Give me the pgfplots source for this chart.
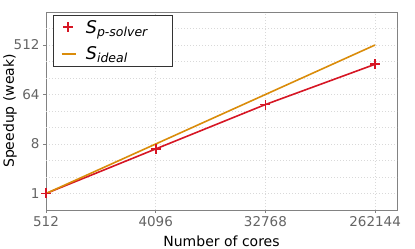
\documentclass[border=0pt]{standalone}
\usepackage{pgfplots}
\pgfplotsset{compat=1.18}
\usepackage{fontspec}
\setmainfont{DejaVu Sans}
\definecolor{cred}{RGB}{214,22,36}
\definecolor{corange}{RGB}{218,140,10}
\definecolor{tickgrey}{RGB}{100,100,100}
\definecolor{spine}{RGB}{130,130,130}
\newcommand{\sub}[1]{\raisebox{-0.3ex}{\fontsize{12.5}{14}\selectfont\textit{#1}}}
\begin{document}
\begin{tikzpicture}
\begin{axis}[
  scale only axis, width=351pt, height=198pt,
  at={(0,0)}, anchor=south west,
  xmode=log, ymode=log, log basis x=2, log basis y=2,
  xmin=512, xmax=397000, ymin=0.5, ymax=2048,
  xtick={512,4096,32768,262144},
  xticklabels={512,4096,32768,262144},
  ytick={1,8,64,512},
  yticklabels={1,8,64,512},
  extra y ticks={2,4,16,32,128,256,1024},
  extra y tick labels={},
  extra y tick style={major tick length=0pt},
  grid=major,
  major grid style={dash pattern=on 0.8pt off 2.2pt, gray!30, line width=0.7pt},
  axis line style={spine, line width=0.8pt},
  tick style={spine, line width=0.8pt},
  tick align=outside, major tick length=3pt,
  xtick pos=bottom, ytick pos=left,
  ticklabel style={font=\fontsize{13.5}{15}\selectfont, text=tickgrey},
  /pgf/number format/assume math mode=true,
  xlabel={Number of cores}, ylabel={Speedup (weak)},
  label style={font=\fontsize{14}{16}\selectfont},
  xlabel style={yshift=-2pt},
  ylabel style={yshift=-13pt},
  legend style={at={(axis description cs:0.02,0.985)}, anchor=north west, draw=black!80, line width=0.6pt,
    font=\fontsize{17.5}{19}\selectfont, inner xsep=4pt, inner ysep=3pt, row sep=8pt, cells={anchor=west},
    nodes={inner xsep=7pt}},
  legend cell align=left,
]
\addplot[cred, line width=1.6pt, mark=+, mark size=5pt, mark options={line width=1.6pt},
  legend image code/.code={\path (0pt,0pt) (20pt,0pt); \draw[cred, line width=1.8pt, mark=+, mark size=5pt, mark options={line width=1.8pt, draw=cred}] plot coordinates {(10pt,0.4pt)};}]
  coordinates {(512,1) (4096,6.5) (32768,42) (262144,228)};
\addlegendentry{\textit{S}\sub{p-solver}\hspace*{13pt}}
\addplot[corange, line width=1.6pt,
  legend image code/.code={\path (0pt,0pt) (20pt,0pt); \draw[corange, line width=1.6pt] (3.5pt,0pt) -- (17.5pt,0pt);}]
  coordinates {(512,1) (4096,8) (32768,64) (262144,512)};
\addlegendentry{\textit{S}\sub{ideal}}
\end{axis}
\pgfresetboundingbox
\path[use as bounding box] (-46pt,-39pt) rectangle (369pt,210pt);
\end{tikzpicture}
\end{document}
